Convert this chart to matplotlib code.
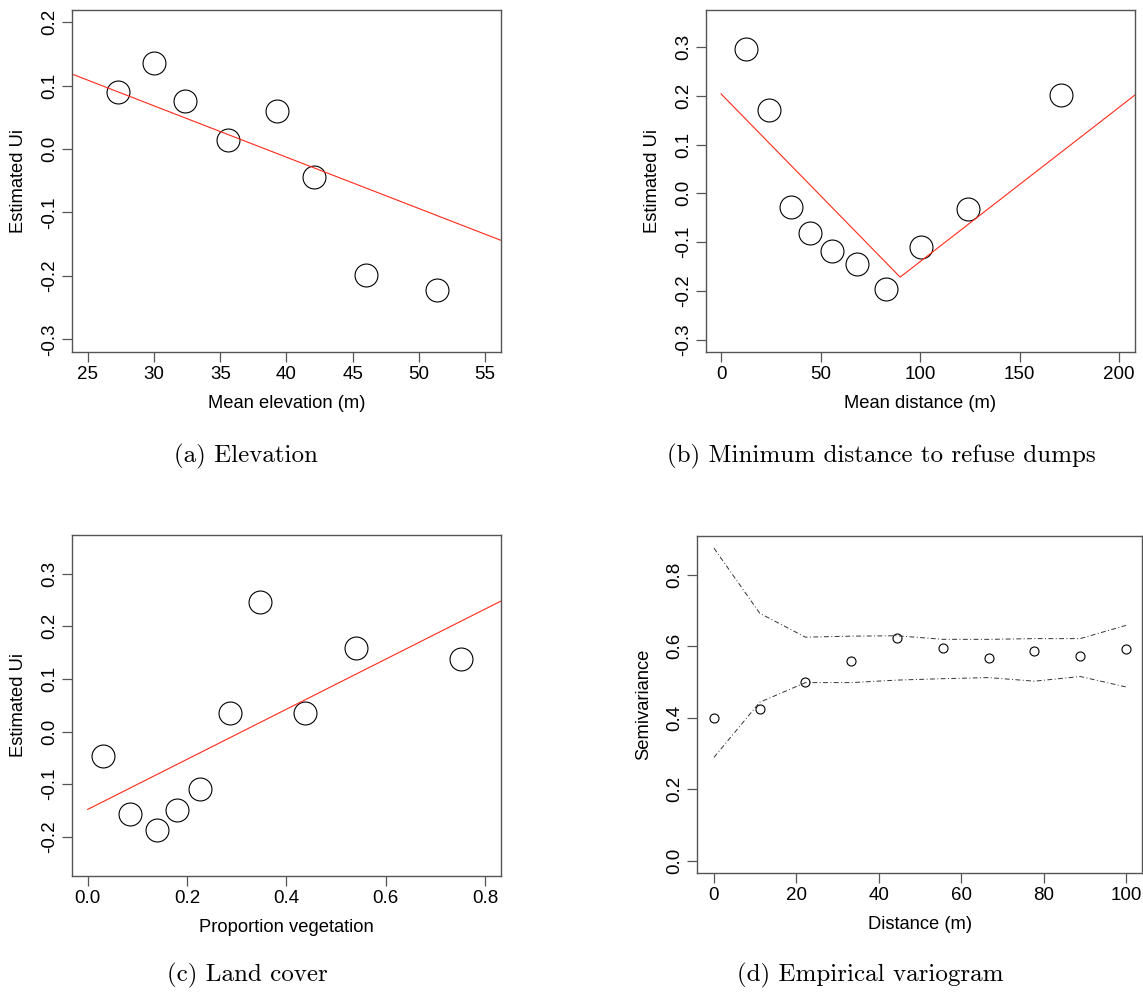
import numpy as np
import matplotlib
matplotlib.use("Agg")
import matplotlib.pyplot as plt
from matplotlib.ticker import FormatStrFormatter, MultipleLocator

plt.rcParams['font.family'] = ['Liberation Sans', 'DejaVu Sans']
plt.rcParams['axes.unicode_minus'] = False

# (a) elevation
elev_x = [27.3, 30.0, 32.35, 35.6, 39.25, 42.1, 46.0, 51.4]
elev_y = [0.089, 0.135, 0.076, 0.014, 0.060, -0.044, -0.198, -0.222]
elev_fit = (0.3106, -0.00809)   # intercept, slope

# (b) minimum distance to refuse dumps
dump_x = [12.4, 24.1, 35.0, 44.7, 55.9, 68.5, 82.7, 100.5, 124.0, 171.0]
dump_y = [0.295, 0.171, -0.029, -0.081, -0.118, -0.146, -0.196, -0.111, -0.032, 0.202]
dump_line_x = [0, 90, 210]
dump_line_y = [0.204, -0.172, 0.208]

# (c) land cover
veg_x = [0.030, 0.086, 0.140, 0.180, 0.226, 0.287, 0.346, 0.438, 0.540, 0.752]
veg_y = [-0.047, -0.156, -0.187, -0.150, -0.110, 0.036, 0.247, 0.036, 0.158, 0.137]
veg_fit = (-0.148, 0.476)
veg_line_x = [0.0, 0.9]

# (d) empirical variogram
vario_x = [0, 11.1, 22.2, 33.3, 44.4, 55.6, 66.7, 77.8, 88.9, 100]
vario_y = [0.399, 0.424, 0.500, 0.559, 0.624, 0.596, 0.567, 0.587, 0.573, 0.592]
env_hi = [0.874, 0.692, 0.625, 0.628, 0.629, 0.619, 0.619, 0.621, 0.621, 0.658]
env_lo = [0.289, 0.443, 0.498, 0.498, 0.505, 0.509, 0.512, 0.502, 0.515, 0.486]

captions = ['(a) Elevation', '(b) Minimum distance to refuse dumps',
            '(c) Land cover', '(d) Empirical variogram']

W, H = 1143, 993
fig = plt.figure(figsize=(W / 100, H / 100), dpi=100)


def make_ax(l, r, t, b):
    return fig.add_axes([l / W, 1 - b / H, (r - l) / W, (b - t) / H])


def r_style(ax, xlab, ylab, xfmt, yfmt, xstep, ystep):
    for s in ax.spines.values():
        s.set_color('#555555')
        s.set_linewidth(1.0)
    ax.tick_params(direction='out', length=7, width=0.9, color='#555555',
                   labelsize=13.5, pad=3)
    ax.tick_params(axis='y', labelrotation=90)
    for lab in ax.get_yticklabels():
        lab.set_va('center')
    ax.xaxis.set_major_locator(MultipleLocator(xstep))
    ax.yaxis.set_major_locator(MultipleLocator(ystep))
    ax.xaxis.set_major_formatter(FormatStrFormatter(xfmt))
    ax.yaxis.set_major_formatter(FormatStrFormatter(yfmt))
    ax.set_xlabel(xlab, fontsize=13.2, labelpad=9)
    ax.set_ylabel(ylab, fontsize=13.2, labelpad=10)


circ = dict(ls='none', marker='o', mfc='none', mec='black', mew=0.8)

# (a)
ax = make_ax(72, 501, 10, 352)
ax.plot(elev_x, elev_y, ms=16.5, **circ)
ax.axline((0, elev_fit[0]), slope=elev_fit[1], color='#ff2a1a', lw=0.8)
ax.set_xlim(23.8, 56.2)
ax.set_ylim(-0.32, 0.219)
r_style(ax, 'Mean elevation (m)', 'Estimated Ui', '%d', '%.1f', 5, 0.1)

# (b)
ax = make_ax(705.7, 1135, 10, 351.7)
ax.plot(dump_x, dump_y, ms=16.5, **circ)
ax.plot(dump_line_x, dump_line_y, color='#ff2a1a', lw=0.8)
ax.set_xlim(-7.7, 208)
ax.set_ylim(-0.325, 0.376)
r_style(ax, 'Mean distance (m)', 'Estimated Ui', '%d', '%.1f', 50, 0.1)

# (c)
ax = make_ax(72, 501, 534.5, 875.7)
ax.plot(veg_x, veg_y, ms=16.5, **circ)
ax.plot(veg_line_x, [veg_fit[0] + veg_fit[1] * v for v in veg_line_x],
        color='#ff2a1a', lw=0.8)
ax.set_xlim(-0.0316, 0.832)
ax.set_ylim(-0.274, 0.3745)
r_style(ax, 'Proportion vegetation', 'Estimated Ui', '%.1f', '%.1f', 0.2, 0.1)

# (d)
ax = make_ax(697.3, 1142, 536, 872.7)
ax.plot(vario_x, vario_y, ms=6.5, **circ)
ax.plot(vario_x, env_hi, color='#333333', lw=0.7, ls=(0, (5, 2.5, 1, 2.5)))
ax.plot(vario_x, env_lo, color='#333333', lw=0.7, ls=(0, (5, 2.5, 1, 2.5)))
ax.set_xlim(-4.05, 103.9)
ax.set_ylim(-0.0336, 0.908)
r_style(ax, 'Distance (m)', 'Semivariance', '%d', '%.1f', 20, 0.2)

# captions
cap_pos = [(246, 456), (881, 456), (247, 975), (870, 975)]
for txt, (cx, cy) in zip(captions, cap_pos):
    fig.text(cx / W, 1 - cy / H, txt, family='cmr10', fontsize=18,
             ha='center', va='center')

fig.savefig('out.png', dpi=100)
